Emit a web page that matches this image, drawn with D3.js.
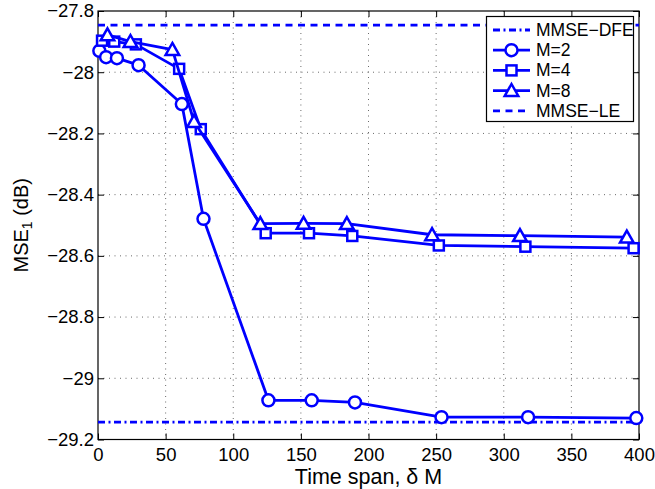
<!DOCTYPE html>
<html>
<head>
<meta charset="utf-8">
<script src="https://cdn.jsdelivr.net/npm/d3@7"></script>
<style>
  body { margin: 0; background: #fff; }
  svg text { font-family: "Liberation Sans", Arial, sans-serif; }
</style>
</head>
<body>
<svg id="chart" width="655" height="489"></svg>
<script>
// time span (delta*M) and MSE_1 values
const spanM2 = [1, 6, 14, 30, 62, 78, 126, 158, 190, 254, 318, 398];
const mseM2 = [-27.930, -27.951, -27.954, -27.977, -28.104, -28.479, -29.072, -29.072, -29.079, -29.127, -29.127, -29.130];

const spanM4 = [3, 12, 28, 60, 76, 124, 156, 188, 252, 316, 396];
const mseM4 = [-27.897, -27.900, -27.909, -27.989, -28.186, -28.526, -28.526, -28.535, -28.566, -28.570, -28.575];

const spanM8 = [7, 24, 55, 71, 120, 152, 184, 247, 312, 391];
const mseM8 = [-27.878, -27.900, -27.926, -28.161, -28.495, -28.494, -28.495, -28.531, -28.534, -28.539];

const mmseDFE = -29.143;
const mmseLE = -27.846;

const xTicks = [0, 50, 100, 150, 200, 250, 300, 350, 400];
const yTicks = [-27.8, -28, -28.2, -28.4, -28.6, -28.8, -29, -29.2];

const blue = "#0000ff";
const margin = {top: 11, right: 16, bottom: 49.5, left: 98};
const width = 655, height = 489;

const svg = d3.select("#chart");

const x = d3.scaleLinear()
    .domain([0, 400])
    .range([margin.left, width - margin.right]);

const y = d3.scaleLinear()
    .domain([-29.2, -27.8])
    .range([height - margin.bottom, margin.top]);

const fmt = d => d3.format("")(d).replace("-", "\u2212");

// grid
const grid = svg.append("g")
    .attr("stroke", "#444")
    .attr("stroke-width", 0.8)
    .attr("stroke-dasharray", "1,4.5");

grid.selectAll(".gx")
    .data(xTicks.slice(1, -1))
    .join("line")
    .attr("x1", d => x(d)).attr("x2", d => x(d))
    .attr("y1", y.range()[1]).attr("y2", y.range()[0]);

grid.selectAll(".gy")
    .data(yTicks.slice(1, -1))
    .join("line")
    .attr("y1", d => y(d)).attr("y2", d => y(d))
    .attr("x1", x.range()[0]).attr("x2", x.range()[1]);

// axes (ticks inward, box on)
const tick = 6;
svg.append("g")
    .attr("transform", `translate(0,${y.range()[0]})`)
    .call(d3.axisBottom(x).tickValues(xTicks).tickSize(-tick).tickPadding(8).tickFormat(fmt))
    .call(g => g.select(".domain").remove());

svg.append("g")
    .attr("transform", `translate(${x.range()[0]},0)`)
    .call(d3.axisLeft(y).tickValues(yTicks).tickSize(-tick).tickPadding(4).tickFormat(fmt))
    .call(g => g.select(".domain").remove());

svg.append("g")
    .attr("transform", `translate(0,${y.range()[1]})`)
    .call(d3.axisTop(x).tickValues(xTicks).tickSize(-tick).tickFormat(""))
    .call(g => g.select(".domain").remove());

svg.append("g")
    .attr("transform", `translate(${x.range()[1]},0)`)
    .call(d3.axisRight(y).tickValues(yTicks).tickSize(-tick).tickFormat(""))
    .call(g => g.select(".domain").remove());

svg.selectAll(".tick text")
    .attr("font-size", 18.5)
    .attr("fill", "#000");
svg.selectAll(".tick line").attr("stroke", "#000");

svg.append("rect")
    .attr("x", x.range()[0]).attr("y", y.range()[1])
    .attr("width", x.range()[1] - x.range()[0])
    .attr("height", y.range()[0] - y.range()[1])
    .attr("fill", "none").attr("stroke", "#000").attr("stroke-width", 1.2);

// reference lines
svg.append("line")
    .attr("x1", x(0)).attr("x2", x(400))
    .attr("y1", y(mmseDFE)).attr("y2", y(mmseDFE))
    .attr("stroke", blue).attr("stroke-width", 2.8)
    .attr("stroke-dasharray", "7,3.5,2,3.5");

svg.append("line")
    .attr("x1", x(0)).attr("x2", x(400))
    .attr("y1", y(mmseLE)).attr("y2", y(mmseLE))
    .attr("stroke", blue).attr("stroke-width", 2.8)
    .attr("stroke-dasharray", "7,5.5");

// markers
function marker(g, shape) {
    if (shape == "circle") {
        g.append("circle").attr("r", 6);
    } else if (shape == "square") {
        g.append("rect").attr("x", -5).attr("y", -5).attr("width", 10).attr("height", 10);
    } else {
        g.append("path").attr("d", "M0,-6.6L6.8,5.4L-6.8,5.4Z");
    }
}

const series = [
    {span: spanM2, mse: mseM2, shape: "circle"},
    {span: spanM4, mse: mseM4, shape: "square"},
    {span: spanM8, mse: mseM8, shape: "triangle"}
];

const line = d3.line()
    .x(d => x(d[0]))
    .y(d => y(d[1]));

series.forEach(s => {
    const pts = s.span.map((v, i) => [v, s.mse[i]]);
    svg.append("path")
        .datum(pts)
        .attr("fill", "none")
        .attr("stroke", blue)
        .attr("stroke-width", 2.8)
        .attr("stroke-linejoin", "round")
        .attr("d", line);
    svg.append("g")
        .selectAll("g")
        .data(pts)
        .join("g")
        .attr("transform", d => `translate(${x(d[0])},${y(d[1])})`)
        .attr("fill", "#fff")
        .attr("stroke", blue)
        .attr("stroke-width", 2.5)
        .each(function() { marker(d3.select(this), s.shape); });
});

// legend
const legendItems = [
    {label: "MMSE\u2212DFE", dash: "7,3.5,2,3.5", shape: null},
    {label: "M=2", dash: null, shape: "circle"},
    {label: "M=4", dash: null, shape: "square"},
    {label: "M=8", dash: null, shape: "triangle"},
    {label: "MMSE\u2212LE", dash: "7,5.5", shape: null}
];

const legend = svg.append("g");
legend.append("rect")
    .attr("x", 486.5).attr("y", 16.5)
    .attr("width", 147).attr("height", 105)
    .attr("fill", "#fff").attr("stroke", "#000").attr("stroke-width", 1.2);

legendItems.forEach((d, i) => {
    const ly = 30 + i * 20.2;
    legend.append("line")
        .attr("x1", 493).attr("x2", 530)
        .attr("y1", ly).attr("y2", ly)
        .attr("stroke", blue).attr("stroke-width", 2.8)
        .attr("stroke-dasharray", d.dash);
    if (d.shape) {
        const m = legend.append("g")
            .attr("transform", `translate(511.5,${ly})`)
            .attr("fill", "#fff").attr("stroke", blue).attr("stroke-width", 2.5);
        marker(m, d.shape);
    }
    legend.append("text")
        .attr("x", 536).attr("y", ly + 6)
        .attr("font-size", 17.5)
        .text(d.label);
});

// axis titles
svg.append("text")
    .attr("x", (x.range()[0] + x.range()[1]) / 2)
    .attr("y", 484)
    .attr("text-anchor", "middle")
    .attr("font-size", 21.5)
    .text("Time span, \u03b4 M");

const yl = svg.append("text")
    .attr("transform", `translate(28,${(y.range()[0] + y.range()[1]) / 2}) rotate(-90)`)
    .attr("text-anchor", "middle")
    .attr("font-size", 20);
yl.append("tspan").text("MSE");
yl.append("tspan").attr("font-size", 14).attr("dy", 4).text("1");
yl.append("tspan").attr("dy", -4).text(" (dB)");
</script>
</body>
</html>
